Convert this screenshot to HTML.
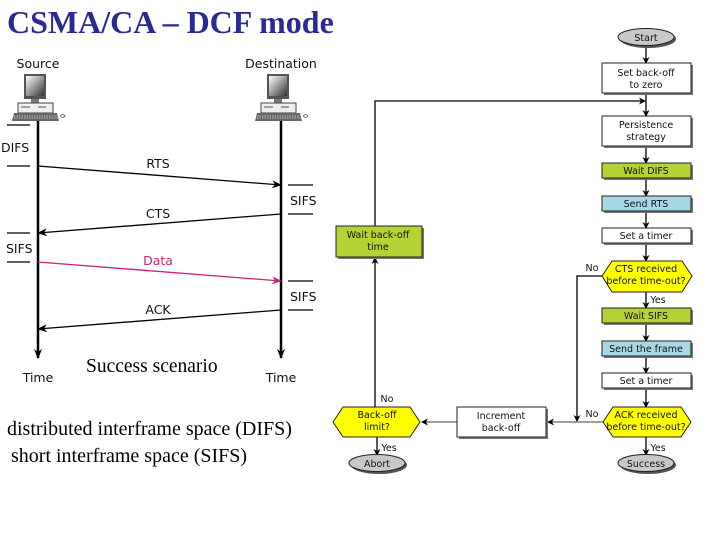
<!DOCTYPE html>
<html><head><meta charset="utf-8"><style>
html,body{margin:0;padding:0;background:#fff;}
svg{display:block;}
.s{font-family:"DejaVu Sans","Liberation Sans",sans-serif;}
</style></head><body>
<svg width="720" height="540" viewBox="0 0 720 540" xmlns="http://www.w3.org/2000/svg">
<defs>
<marker id="ab" markerWidth="10" markerHeight="8" refX="9" refY="4" orient="auto" markerUnits="userSpaceOnUse"><path d="M0,0 L10,4 L0,8 L3,4 Z" fill="#000"/></marker>
<marker id="am" markerWidth="10" markerHeight="8" refX="9" refY="4" orient="auto" markerUnits="userSpaceOnUse"><path d="M0,0 L10,4 L0,8 L3,4 Z" fill="#d0207a"/></marker>
<marker id="as" markerWidth="7" markerHeight="7" refX="6" refY="3.5" orient="auto" markerUnits="userSpaceOnUse"><path d="M0,0 L7,3.5 L0,7 L2,3.5 Z" fill="#000"/></marker>
<linearGradient id="scr" x1="0" y1="0" x2="1" y2="1"><stop offset="0" stop-color="#fff"/><stop offset="1" stop-color="#333"/></linearGradient>
<g id="pc">
<rect x="0" y="0" width="22" height="25" fill="#555"/>
<rect x="2" y="2" width="18" height="20" fill="url(#scr)"/>
<rect x="7" y="25" width="8" height="4" fill="#777"/>
<rect x="-6" y="29" width="35" height="10" fill="#eee" stroke="#444" stroke-width="1"/>
<line x1="-3" y1="33" x2="6" y2="33" stroke="#555"/>
<line x1="14" y1="33" x2="22" y2="33" stroke="#555"/>
<path d="M-10,39 L33,39 L35,47 L-12,47 Z" fill="#666"/>
<path d="M-10,42 L33,42 M-10,44 L34,44" stroke="#ddd" stroke-width="0.8" stroke-dasharray="1.5 1"/>
<path d="M36,42 q3,-3 5,0 q-2,3 -5,0" fill="none" stroke="#555" stroke-width="0.8"/>
</g>
</defs>

<text x="7" y="33" font-family="Liberation Serif,serif" font-weight="bold" font-size="32" fill="#2a2a96">CSMA/CA – DCF mode</text>

<g class="s" font-size="12.5" fill="#111">
<text x="38" y="68" text-anchor="middle">Source</text>
<text x="281" y="68" text-anchor="middle">Destination</text>
<use href="#pc" x="24" y="74"/>
<use href="#pc" x="267" y="74"/>
<line x1="38" y1="121" x2="38" y2="358" stroke="#000" stroke-width="2.5" marker-end="url(#ab)"/>
<line x1="281" y1="121" x2="281" y2="358" stroke="#000" stroke-width="2.5" marker-end="url(#ab)"/>
<g stroke="#000" stroke-width="1.3">
<line x1="7" y1="125" x2="30" y2="125"/><line x1="7" y1="166" x2="30" y2="166"/>
<line x1="7" y1="233" x2="30" y2="233"/><line x1="7" y1="262" x2="30" y2="262"/>
<line x1="288" y1="185" x2="313" y2="185"/><line x1="288" y1="214" x2="313" y2="214"/>
<line x1="288" y1="281" x2="313" y2="281"/><line x1="288" y1="310" x2="313" y2="310"/>
</g>
<text x="1" y="152">DIFS</text>
<text x="6" y="253">SIFS</text>
<text x="290" y="205">SIFS</text>
<text x="290" y="301">SIFS</text>
<line x1="38" y1="166" x2="281" y2="185" stroke="#000" stroke-width="1.3" marker-end="url(#ab)"/>
<line x1="281" y1="214" x2="38" y2="233" stroke="#000" stroke-width="1.3" marker-end="url(#ab)"/>
<line x1="38" y1="262" x2="281" y2="281" stroke="#d0207a" stroke-width="1.3" marker-end="url(#am)"/>
<line x1="281" y1="310" x2="38" y2="329" stroke="#000" stroke-width="1.3" marker-end="url(#ab)"/>
<text x="158" y="168" text-anchor="middle">RTS</text>
<text x="158" y="218" text-anchor="middle">CTS</text>
<text x="158" y="265" text-anchor="middle" fill="#d0207a">Data</text>
<text x="158" y="314" text-anchor="middle">ACK</text>
<text x="38" y="382" text-anchor="middle">Time</text>
<text x="281" y="382" text-anchor="middle">Time</text>
</g>
<g font-family="Liberation Serif,serif" font-size="20" fill="#000">
<text x="86" y="372" font-size="19.5">Success scenario</text>
<text x="7" y="435">distributed interframe space (DIFS)</text>
<text x="11" y="462">short interframe space (SIFS)</text>
</g>

<g class="s" font-size="9.5" fill="#111" text-anchor="middle">
<g stroke="#000" stroke-width="1.3" fill="none">
<line x1="646" y1="46" x2="646" y2="63" marker-end="url(#as)"/>
<line x1="646" y1="93" x2="646" y2="116" marker-end="url(#as)"/>
<line x1="646" y1="146" x2="646" y2="163" marker-end="url(#as)"/>
<line x1="646" y1="178" x2="646" y2="196" marker-end="url(#as)"/>
<line x1="646" y1="211" x2="646" y2="228" marker-end="url(#as)"/>
<line x1="646" y1="243" x2="646" y2="261" marker-end="url(#as)"/>
<line x1="646" y1="292" x2="646" y2="308" marker-end="url(#as)"/>
<line x1="646" y1="323" x2="646" y2="341" marker-end="url(#as)"/>
<line x1="646" y1="356" x2="646" y2="373" marker-end="url(#as)"/>
<line x1="646" y1="388" x2="646" y2="407" marker-end="url(#as)"/>
<line x1="646" y1="437" x2="646" y2="455" marker-end="url(#as)"/>
<line x1="377" y1="437" x2="377" y2="455" marker-end="url(#as)"/>
<polyline points="375,226 375,101 645,101" marker-end="url(#as)"/>
<line x1="375" y1="407" x2="375" y2="258" marker-end="url(#as)"/>
<polyline points="602,276 577,276 577,421" marker-end="url(#as)"/>
</g>
<g stroke="#666" stroke-width="1.3" fill="none">
<line x1="603" y1="422" x2="548" y2="422" marker-end="url(#as)"/>
<line x1="457" y1="422" x2="422" y2="422" marker-end="url(#as)"/>
</g>
<g stroke="#222" stroke-width="1">
<ellipse cx="648" cy="39" rx="28" ry="9" fill="#555" stroke="none"/>
<ellipse cx="646" cy="37" rx="28" ry="8.5" fill="#c8c8c8"/>
<ellipse cx="648" cy="465" rx="28" ry="9" fill="#555" stroke="none"/>
<ellipse cx="646" cy="463" rx="28" ry="8.5" fill="#c8c8c8"/>
<ellipse cx="379" cy="465" rx="28" ry="9" fill="#555" stroke="none"/>
<ellipse cx="377" cy="463" rx="28" ry="8.5" fill="#c8c8c8"/>
<g fill="#777" stroke="none">
<rect x="604" y="65" width="89" height="30"/><rect x="604" y="118" width="89" height="30"/>
<rect x="604" y="165" width="89" height="15"/><rect x="604" y="198" width="89" height="15"/>
<rect x="604" y="230" width="89" height="15"/><rect x="604" y="310" width="89" height="15"/>
<rect x="604" y="343" width="89" height="15"/><rect x="604" y="375" width="89" height="15"/>
<rect x="338" y="228" width="86" height="31"/><rect x="459" y="409" width="89" height="30"/>
</g>
<rect x="602" y="63" width="89" height="30" fill="#fff"/>
<rect x="602" y="116" width="89" height="30" fill="#fff"/>
<rect x="602" y="163" width="89" height="15" fill="#b5d334"/>
<rect x="602" y="196" width="89" height="15" fill="#a6d8e6"/>
<rect x="602" y="228" width="89" height="15" fill="#fff"/>
<rect x="602" y="308" width="89" height="15" fill="#b5d334"/>
<rect x="602" y="341" width="89" height="15" fill="#a6d8e6"/>
<rect x="602" y="373" width="89" height="15" fill="#fff"/>
<rect x="336" y="226" width="86" height="31" fill="#b5d334"/>
<rect x="457" y="407" width="89" height="30" fill="#fff"/>
<polygon points="602,276 612,261 682,261 692,276 682,292 612,292" fill="#ffff00"/>
<polygon points="603,422 613,407 681,407 691,422 681,437 613,437" fill="#ffff00"/>
<polygon points="333,422 343,407 410,407 420,422 410,437 343,437" fill="#ffff00"/>
</g>
<text x="646" y="41">Start</text>
<text x="646" y="76">Set back-off</text><text x="646" y="88">to zero</text>
<text x="646" y="128">Persistence</text><text x="646" y="140">strategy</text>
<text x="646" y="174">Wait DIFS</text>
<text x="646" y="207">Send RTS</text>
<text x="646" y="239">Set a timer</text>
<text x="646" y="272">CTS received</text><text x="646" y="284">before time-out?</text>
<text x="646" y="319">Wait SIFS</text>
<text x="646" y="352">Send the frame</text>
<text x="646" y="384">Set a timer</text>
<text x="646" y="418">ACK received</text><text x="646" y="430">before time-out?</text>
<text x="646" y="467">Success</text>
<text x="377" y="467">Abort</text>
<text x="377" y="418">Back-off</text><text x="377" y="430">limit?</text>
<text x="501" y="419">Increment</text><text x="501" y="431">back-off</text>
<text x="378" y="238">Wait back-off</text><text x="378" y="250">time</text>
<text x="592" y="271">No</text>
<text x="592" y="417">No</text>
<text x="387" y="402">No</text>
<text x="658" y="303">Yes</text>
<text x="658" y="451">Yes</text>
<text x="389" y="451">Yes</text>
</g>
</svg>
</body></html>
